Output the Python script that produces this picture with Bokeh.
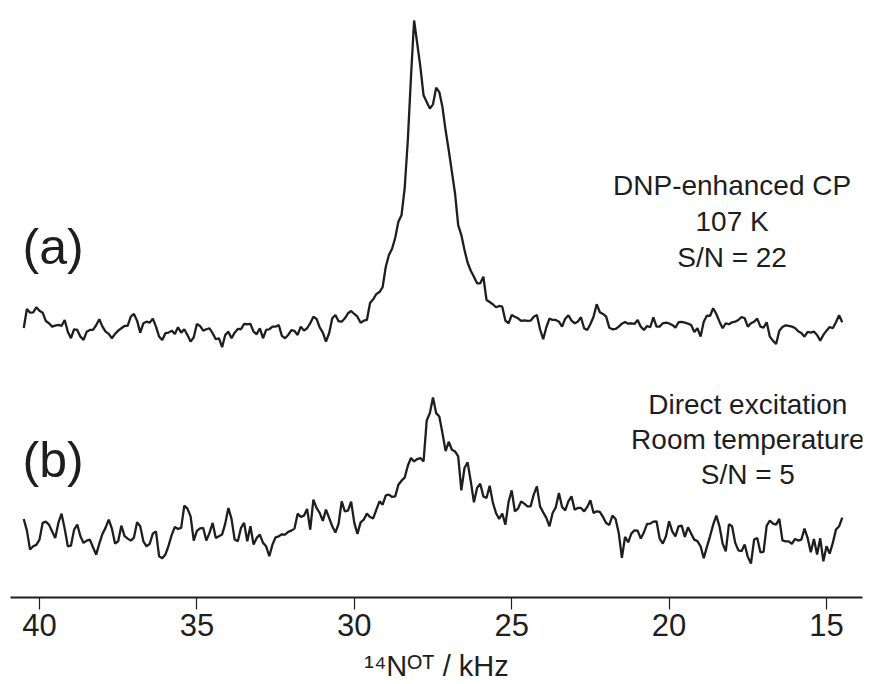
import numpy as np
from bokeh.plotting import figure
from bokeh.models import Range1d, ColumnDataSource, FixedTicker
from bokeh.core.properties import value
from bokeh.embed import file_html
from bokeh.resources import INLINE

# ---- data ----
FREQ_START_KHZ = 40.5
FREQ_STEP_KHZ = 0.1

# (a) DNP-enhanced CP, intensity relative to its baseline
trace_a = [
    -3, 16, 12.3, 12.7, 17.7, 14.3, 12.3, 4, 1.7, -1.7,
    -0.7, 0, -1, 5, -6.7, -13.3, -4.3, -5, -11.7, -15,
    -6.7, -5, -5, -0.3, 5.7, -1.7, -6.7, -9, -13.3, -9,
    -5.7, -3.3, -1, -1, 8.3, 11, 4.3, -7.7, 1.7, 3.3,
    2.3, 6.3, -1.7, -11.7, -15, -8.3, -7.7, -5.7, -9, -2.3,
    -7.7, -4.3, -10, -16.7, -12.3, 1, -1, -5.7, -4.3, -3.3,
    -8.3, -14.3, -13.3, -22.3, -10, -6.7,
    -13.3, -7.7, -4, -4.3, 1, 0.7, 1, -6.7, -9.3, -3.3,
    -13.3, -5, -4.3, -1.7, -1.7, 0, -11, -13.3, -10, -5.3,
    -6, -10, -1.7, -5.7, -3.3, 1.7, 8.3, 6, -2.3, -7.7,
    -16.7, -8.3, 6.7, 10, 3.7, 3.3, 6.7, 11.7, 14, 11,
    8.3, 2.3, 4.3, 5, 22, 25.7, 31, 33, 38,
    58.3, 70, 76.3, 87.3, 103.3, 110, 136.7, 185, 248.3, 305,
    281.7, 258.3, 230, 223.3, 216.7, 221, 237.7, 233.3, 218.3, 195,
    175, 153.3, 131.7, 100, 90, 75, 62.3, 54.3, 48.3, 41.7,
    41.7, 48.3, 25, 23, 20.7, 17.7, 19, 18.3, 4.3, 1.7,
    10, 8.3, 6.7,
    4, 4.7, 4, 4.3, 8.3, 10, -4.3, -14.3, -2.3, 6.3,
    5, 5, 3.3, -1.7, 6.3, 9.7, 4.3, 1.7, 3.3, 7.7,
    -3.3, -5, 1, 8.3, 20.7, 12.7, 11, 8.3, -2.7, -4.3,
    -4, -1.7, 1.3, 3, 1.3, 1.7, 1, 5, -1.7, -5,
    -1, -2.3, 7.7, -1.7, -1.7, 1.7, 2.3, 1.5,
    0, -2.7, 2.7, 3, 2.3, 1.3, 0, -7, -3.3, -11.7,
    3.3, 9.3, 9, 16.7, 11, 3.3, -3.3, 1.7, 0.7, 2.7,
    3.3, 5, 8, 6.7, -1.7, 1.7, 3.3, 6.3, -1.7, -2.7,
    2.7, -11.7, -16, -19, -5.7, -2, -0.3, -1, -1.7, -3,
    -6.3, -8, -11.7, -7, -7.7, -6.7, -10, -15.7, -10, -5.7,
    -2, -3.3, 2.7, 9.7, 2.7,
]

# (b) Direct excitation, intensity relative to its baseline
trace_b = [
    20.7, 9, -10, -6.7, -5.3, 0, 16.7, 18, 15, 8.3,
    1.7, 16.7, 26, 11, -6.7, -6, 10, 15, 3.3, -3.3,
    -1, 0, -7.7, -15, -4, 5.7, 12, 20, 11, -4,
    -1.7, 14, 3.7, 1, -1, 2, 17.3, 13.3, -1.7, -6.7,
    -4.3, 6, 8.3, -16.7, -18.7, -15, -6, 4.7, 12.7, 10.7,
    11.7, 34, 31, 23.3, -1, 8.7, 11.3, 11.7, -1, 6.7,
    16.7, 1.7, 3.3, 5, 16, 31.7,
    20.7, 0, -1.7, 11.7, 16.7, -1.7, 13.3, -5, 1.7, 5,
    -3.3, -6.7, -16.7, -5, 2.3, 3.3, 5.3, 5, 7.7, 9,
    11, 26, 22.7, 24, 30.7, 10, 40, 31.7, 26.7, 18.7,
    30, 21.7, 13.3, 7, 15.7, 38.3, 28.3, 29, 38, 16.7,
    5.7, 17.3, 20, 26, 22.7, 21.3, 30, 38.3, 35, 44.3,
    45, 42.7, 43.3, 55, 59, 62,
    74, 81.7, 78.3, 80.7, 81.7, 78.3, 119.3, 126.7, 142.3, 126.7,
    123.3, 106.7, 88.7, 98, 90, 88.3, 83.3, 49.3, 71.7, 77.3,
    58.3, 37.3, 51.7, 56, 43.3, 41.7, 54, 37.3, 26.7, 20.7,
    26, 15, 37.7, 49.3, 28.3, 31, 38.3, 36, 33.3, 33.3,
    45, 53.3, 33.3, 27.3, 21.7, 13.3, 26.7, 32.3, 46.7,
    32.7, 29.3, 38.3, 43.3, 30, 31.7, 31.7, 28.3, 32.7, 39.3,
    26.7, 28.3, 27.7, 22.7, 16.7, 14.7, 24, 20.7, 6.7, -18.3,
    2.7, -2.7, 6, 9.3, 9, 1, 7.3, 15.7, 16, 18,
    18.3, 1, -4, 3.3, 18.3, 8.3, 3.3, 13.3, 14, 2.7,
    12.3, 6, 0, -1.5,
    -6.7, -18.7, -7.3, 3.3, 15, 24, 13.3, -4, -11.7, 15.3,
    13.3, -3.3, -10.7, -11.7, -5, -17.3, -24, 0, 1.7, -12.7,
    -12.3, 14, 19, 16, 15, 20.7, -0.7, -1.7, -1.7, -4.3,
    0.7, -1, 0, 11, 1.7, -12.7, 0.7, -15, 1.3, -21.7,
    -6.7, -14, -3.3, 10, 13.3, 22,
]

X_TICKS = [40, 35, 30, 25, 20, 15]
X_LABEL = "\u00b9\u2074N\u1d3c\u1d40 / kHz"
PANEL_LABELS = ["(a)", "(b)"]
NOTE_A = ["DNP-enhanced CP", "107 K", "S/N = 22"]
NOTE_B = ["Direct excitation", "Room temperature", "S/N = 5"]

# ---- layout ----
OFFSET_A = 273
OFFSET_B = 58
INK = "#1e1e1e"
FONT = "Liberation Sans"

freq = FREQ_START_KHZ - FREQ_STEP_KHZ * np.arange(len(trace_a))
src = ColumnDataSource(dict(
    f=freq,
    a=np.array(trace_a) + OFFSET_A,
    b=np.array(trace_b) + OFFSET_B,
))

p = figure(width=879, height=684,
           x_range=Range1d(40.921, 13.857), y_range=Range1d(0, 598),
           output_backend="svg", toolbar_location=None,
           y_axis_location=None,
           min_border_left=10, min_border_right=17,
           min_border_top=0, min_border_bottom=86)
p.grid.visible = False
p.outline_line_color = None
p.background_fill_color = "white"
p.border_fill_color = "white"

p.line("f", "a", source=src, line_color=INK, line_width=2.3)
p.line("f", "b", source=src, line_color=INK, line_width=2.3)

ax = p.xaxis[0]
ax.ticker = FixedTicker(ticks=X_TICKS)
ax.axis_line_width = 2.2
ax.axis_line_color = INK
ax.major_tick_in = 0
ax.major_tick_out = 12
ax.minor_tick_out = 0
ax.minor_tick_in = 0
ax.major_tick_line_color = INK
ax.major_tick_line_width = 1.2
ax.major_label_standoff = 4
ax.major_label_text_font = FONT
ax.major_label_text_font_size = "31px"
ax.major_label_text_color = INK
ax.axis_label = X_LABEL
ax.axis_label_text_font = FONT
ax.axis_label_text_font_size = "29px"
ax.axis_label_text_font_style = "normal"
ax.axis_label_text_color = INK
ax.axis_label_standoff = 11

p.text(x=[40.54, 40.54], y=[351, 138], text=PANEL_LABELS,
       text_font=value(FONT), text_font_size="50px",
       text_color=INK, text_align="left", text_baseline="middle")
p.text(x=[18.0] * 3, y=[413, 377, 341], text=NOTE_A,
       text_font=value(FONT), text_font_size="28px",
       text_color=INK, text_align="center", text_baseline="middle")
p.text(x=[17.5] * 3, y=[193, 158, 123], text=NOTE_B,
       text_font=value(FONT), text_font_size="28px",
       text_color=INK, text_align="center", text_baseline="middle")

open("out.html", "w").write(file_html(p, INLINE))
